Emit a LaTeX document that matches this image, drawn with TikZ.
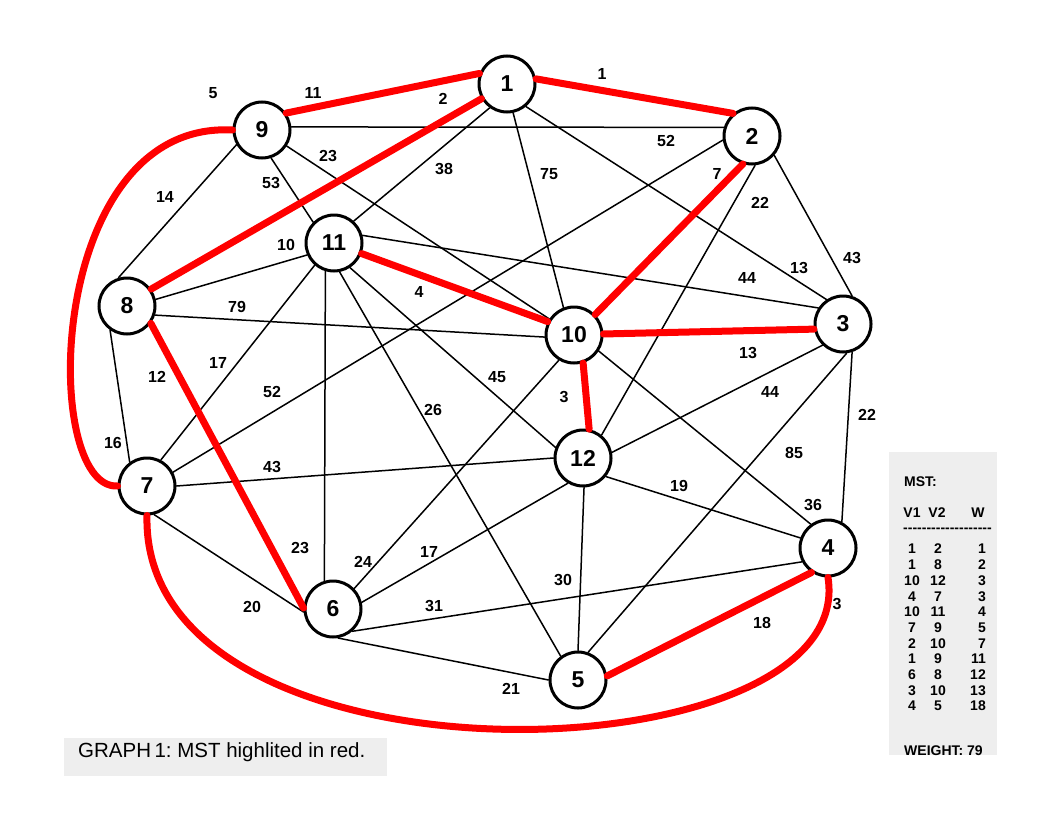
\documentclass[tikz,border=0pt]{standalone}
\usepackage{fontspec}
\setmainfont{Liberation Sans}
\definecolor{mstred}{RGB}{255,0,0}
\definecolor{boxgray}{RGB}{238,238,238}
\frenchspacing

\begin{document}
\begin{tikzpicture}[
    x = 1pt, y = -1pt, % pixel grid, y going down
    line cap = round,
    main node/.style={circle,draw,line width=3pt,fill=white,minimum size=56pt,inner sep=0pt,font=\fontsize{23}{23}\selectfont\bfseries},
    weight label/.style={font=\fontsize{16}{16}\selectfont\bfseries,inner sep=1pt},
    plain edge/.style={line width=1.5pt},
    mst edge/.style={line width=7pt,mstred},
    table text/.style={font=\fontsize{14}{14}\selectfont\bfseries,inner sep=0pt}
  ]
  \useasboundingbox (0,0) rectangle (1056,816);

  % Nodes
  \node[main node] (1) at (507,84) {1};
  \node[main node] (2) at (752,136) {2};
  \node[main node] (3) at (843,324) {3};
  \node[main node] (4) at (828,548) {4};
  \node[main node] (5) at (578,680) {5};
  \node[main node] (6) at (333,609) {6};
  \node[main node] (7) at (147,486) {7};
  \node[main node] (8) at (127,306) {8};
  \node[main node] (9) at (262,130) {9};
  \node[main node] (10) at (574,335) {10};
  \node[main node] (11) at (334,243) {11};
  \node[main node] (12) at (583,458) {12};

  % Edges: from/angle/to/angle/weight/label position
  \foreach \a/\aa/\b/\bb/\w/\lx/\ly in {9/6/2/163/52/666/141, 9/210/8/107/14/165/197,
      9/288/11/135/53/271/183, 9/327/10/147/23/328/156, 1/234/11/48/38/444/169,
      1/282/10/111/75/549/174, 1/310/3/124/13/799/268, 2/188/7/28/52/272/392,
      2/276/12/51/22/760/203, 2/319/3/72/43/852/258, 11/15/3/147/44/747/278,
      11/204/8/13/10/286/245, 8/342/10/184/79/237/307, 11/229/7/62/17/218/363,
      11/253/6/107/23/300/548, 11/281/5/126/26/433/410, 11/303/12/159/45/497/377,
      10/239/6/44/24/363/562, 10/327/4/126/36/813/505, 12/180/7/0/43/272/467,
      12/11/3/226/44/770/392, 12/321/4/160/19/679/486, 12/239/6/13/17/429/552,
      12/272/5/90/30/563/580, 3/277/5/70/85/794/453, 3/288/4/62/22/867/415,
      4/208/6/311/31/434/606, 6/280/5/180/21/511/689, 7/284/6/186/20/252/607,
      8/235/7/126/16/113/443}
  {
    \draw[plain edge] (\a.\aa) -- (\b.\bb);
    \node[weight label] (w\a-\b) at (\lx,\ly) {\w};
  }

  % MST edges
  \foreach \a/\aa/\b/\bb/\w/\lx/\ly in {1/10/2/130/1/602/74, 9/35/1/159/11/313/93,
      1/210/8/35/2/443/99, 10/288/12/78/3/564/397, 11/339/10/153/4/419/292,
      2/252/10/44/7/717/174, 8/324/6/178/12/157/377, 10/2/3/190/13/748/353,
      4/236/5/8/18/762/623}
  {
    \draw[mst edge] (\a.\aa) -- (\b.\bb);
    \node[weight label] (w\a-\b) at (\lx,\ly) {\w};
  }
  \draw[mst edge] (9.west) .. controls (45,120) and (40,490) .. (7.west);
  \node[weight label] (w7-9) at (213,93) {5};
  \draw[mst edge] (7.south) .. controls (140,800) and (860,780) .. (4.south);
  \node[weight label] (w4-7) at (837,604) {3};

  % Caption
  \fill[boxgray] (64,738) rectangle (387,776);
  \node[anchor=west,inner sep=0pt,font=\fontsize{20.5}{20.5}\selectfont] (caption) at (78,752) {GRAPH\,1: MST highlited in red.};

  % MST table
  \fill[boxgray] (889,452) rectangle (997,755);
  \node[table text,anchor=west] (mst) at (904,482) {MST:};
  \node[table text] (hv1) at (912,513) {V1};
  \node[table text] (hv2) at (937,513) {V2};
  \node[table text] (hw) at (978,513) {W};
  \node[table text,anchor=west] (dashes) at (903,530) {\foreach \k in {1,...,19}{-\kern0pt}};
  \foreach \p/\q/\w [count=\i] in {1/2/1, 1/8/2, 10/12/3, 4/7/3, 10/11/4, 7/9/5,
      2/10/7, 1/9/11, 6/8/12, 3/10/13, 4/5/18}
  {
    \node[table text] (v1-\i) at (912,{533.4+15.7*\i}) {\p};
    \node[table text] (v2-\i) at (938,{533.4+15.7*\i}) {\q};
    \node[table text,anchor=east] (w-\i) at (986,{533.4+15.7*\i}) {\w};
  }
  \node[table text,anchor=west] (total) at (904,751) {WEIGHT: 79};
\end{tikzpicture}
\end{document}
